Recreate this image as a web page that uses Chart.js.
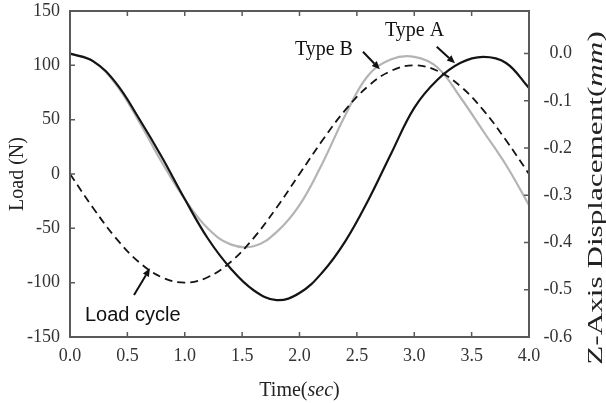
<!DOCTYPE html>
<html>
<head>
<meta charset="utf-8">
<style>
  html, body { margin: 0; padding: 0; background: #fff; }
  #wrap { width: 606px; height: 403px; }
</style>
</head>
<body>
<div id="wrap">
  <canvas id="myChart"></canvas>
</div>
<script src="https://cdn.jsdelivr.net/npm/chart.js"></script>
<script>
// time (sec)
const time = [0.0, 0.2, 0.4, 0.6, 0.8, 1.0, 1.2, 1.4, 1.6, 1.8, 2.0,
              2.2, 2.4, 2.6, 2.8, 3.0, 3.2, 3.4, 3.6, 3.8, 4.0];
// load cycle (N) - left axis
const loadCycle = [0, -31, -59, -81, -95, -100, -95, -81, -59, -31, 0,
                   31, 59, 81, 95, 100, 95, 81, 59, 31, 0];
// z-axis displacement (mm) - right axis
const typeA = [0.000, -0.016, -0.062, -0.137, -0.219, -0.308, -0.391, -0.455, -0.501, -0.522, -0.507,
               -0.463, -0.397, -0.310, -0.211, -0.115, -0.056, -0.020, -0.007, -0.020, -0.073];
const typeB = [0.000, -0.016, -0.065, -0.143, -0.230, -0.308, -0.370, -0.404, -0.408, -0.378, -0.321,
               -0.232, -0.130, -0.046, -0.012, -0.007, -0.029, -0.092, -0.164, -0.236, -0.321];

// annotations, placed in data units (time, load)
const notes = [
  { text: 'Type A', font: '20px "Liberation Serif"', at: [2.745, 127], from: [3.196, 117.1], to: [3.355, 101.9] },
  { text: 'Type B', font: '20px "Liberation Serif"', at: [1.96, 109.5], from: [2.553, 112.5], to: [2.70, 96.4] },
  { text: 'Load cycle', font: '20px "Liberation Sans"', at: [0.13, -135], from: [0.558, -111.3], to: [0.697, -86.8] }
];

const serif = '"Liberation Serif", "Times New Roman", serif';

function pts(vals) {
  return time.map(function(t, i) { return { x: t, y: vals[i] }; });
}

function mixedText(ctx, parts, size) {
  let w = 0;
  parts.forEach(function(p) {
    ctx.font = (p[1] ? 'italic ' : '') + size + 'px ' + serif;
    w += ctx.measureText(p[0]).width;
  });
  let x = -w / 2;
  parts.forEach(function(p) {
    ctx.font = (p[1] ? 'italic ' : '') + size + 'px ' + serif;
    ctx.fillText(p[0], x, 0);
    x += ctx.measureText(p[0]).width;
  });
}

function arrow(ctx, x1, y1, x2, y2) {
  const a = Math.atan2(y2 - y1, x2 - x1);
  const hl = 8, hw = 3.5;
  const bx = x2 - hl * Math.cos(a), by = y2 - hl * Math.sin(a);
  ctx.beginPath();
  ctx.moveTo(x1, y1);
  ctx.lineTo(bx, by);
  ctx.stroke();
  ctx.beginPath();
  ctx.moveTo(x2, y2);
  ctx.lineTo(bx + hw * Math.sin(a), by - hw * Math.cos(a));
  ctx.lineTo(bx - hw * Math.sin(a), by + hw * Math.cos(a));
  ctx.closePath();
  ctx.fill();
}

const decor = {
  id: 'decor',
  afterDraw: function(chart) {
    const ctx = chart.ctx;
    const ca = chart.chartArea;
    const sx = chart.scales.x, sy = chart.scales.y, sy2 = chart.scales.y2;
    ctx.save();

    // frame and inward tick marks
    ctx.strokeStyle = '#5a5a5a';
    ctx.lineWidth = 2;
    ctx.strokeRect(ca.left, ca.top, ca.right - ca.left, ca.bottom - ca.top);
    ctx.lineWidth = 1.5;
    ctx.beginPath();
    sx.ticks.forEach(function(t) {
      const px = sx.getPixelForValue(t.value);
      ctx.moveTo(px, ca.bottom); ctx.lineTo(px, ca.bottom - 5);
      ctx.moveTo(px, ca.top); ctx.lineTo(px, ca.top + 5);
    });
    sy.ticks.forEach(function(t) {
      const py = sy.getPixelForValue(t.value);
      ctx.moveTo(ca.left, py); ctx.lineTo(ca.left + 5, py);
    });
    sy2.ticks.forEach(function(t) {
      const py = sy2.getPixelForValue(t.value);
      ctx.moveTo(ca.right, py); ctx.lineTo(ca.right - 5, py);
    });
    ctx.stroke();

    // axis titles
    ctx.fillStyle = '#222';
    ctx.textBaseline = 'alphabetic';
    ctx.textAlign = 'left';
    ctx.save();
    ctx.translate((ca.left + ca.right) / 2, 396);
    mixedText(ctx, [['Time(', false], ['sec', true], [')', false]], 20);
    ctx.restore();

    ctx.save();
    ctx.translate(23, (ca.top + ca.bottom) / 2);
    ctx.rotate(-Math.PI / 2);
    mixedText(ctx, [['Load (N)', false]], 20);
    ctx.restore();

    ctx.save();
    ctx.translate(602, 198);
    ctx.rotate(-Math.PI / 2);
    ctx.scale(1.56, 1);
    mixedText(ctx, [['Z-Axis Displacement(', false], ['mm', true], [')', false]], 20);
    ctx.restore();

    // annotations
    ctx.fillStyle = '#111';
    ctx.strokeStyle = '#111';
    ctx.lineWidth = 2;
    notes.forEach(function(n) {
      ctx.font = n.font;
      ctx.fillText(n.text, sx.getPixelForValue(n.at[0]), sy.getPixelForValue(n.at[1]));
      arrow(ctx,
        sx.getPixelForValue(n.from[0]), sy.getPixelForValue(n.from[1]),
        sx.getPixelForValue(n.to[0]), sy.getPixelForValue(n.to[1]));
    });
    ctx.restore();
  }
};

const tickFont = { family: serif, size: 18 };

function noPad(s) {
  s.paddingTop = 0; s.paddingBottom = 0; s.paddingLeft = 0; s.paddingRight = 0;
}

const config = {
  type: 'line',
  data: {
    datasets: [
      { label: 'Type A', data: pts(typeA), yAxisID: 'y2', borderColor: '#141414', borderWidth: 2.2 },
      { label: 'Load cycle', data: pts(loadCycle), yAxisID: 'y', borderColor: '#141414', borderWidth: 1.8, borderDash: [8, 5] },
      { label: 'Type B', data: pts(typeB), yAxisID: 'y2', borderColor: '#b4b4b4', borderWidth: 2.2 }
    ]
  },
  options: {
    responsive: true,
    maintainAspectRatio: false,
    animation: false,
    layout: { padding: { top: 11, left: 0, right: 34, bottom: 0 } },
    elements: {
      point: { radius: 0 },
      line: { tension: 0.4, fill: false }
    },
    plugins: { legend: { display: false }, tooltip: { enabled: false } },
    scales: {
      x: {
        type: 'linear', min: 0, max: 4,
        grid: { display: false, drawTicks: false },
        border: { display: false },
        ticks: { stepSize: 0.5, font: tickFont, color: '#333', padding: 8,
                 callback: function(v) { return v.toFixed(1); } },
        afterFit: function(s) { s.height = 66; noPad(s); }
      },
      y: {
        position: 'left', min: -150, max: 150,
        grid: { display: false, drawTicks: false },
        border: { display: false },
        ticks: { stepSize: 50, font: tickFont, color: '#333', padding: 10 },
        afterFit: function(s) { s.width = 70; noPad(s); }
      },
      y2: {
        position: 'right', min: -0.6, max: 0.09,
        grid: { display: false, drawTicks: false },
        border: { display: false },
        ticks: { stepSize: 0.1, font: tickFont, color: '#333', crossAlign: 'far',
                 callback: function(v) { return Math.abs(v) < 1e-9 ? '0.0' : v.toFixed(1); } },
        afterBuildTicks: function(s) {
          s.ticks = s.ticks.filter(function(t) {
            return t.value <= 1e-6 && Math.abs(t.value * 10 - Math.round(t.value * 10)) < 1e-6;
          });
        },
        afterFit: function(s) { s.width = 43; noPad(s); }
      }
    }
  },
  plugins: [decor]
};

new Chart('myChart', config);
</script>
</body>
</html>
